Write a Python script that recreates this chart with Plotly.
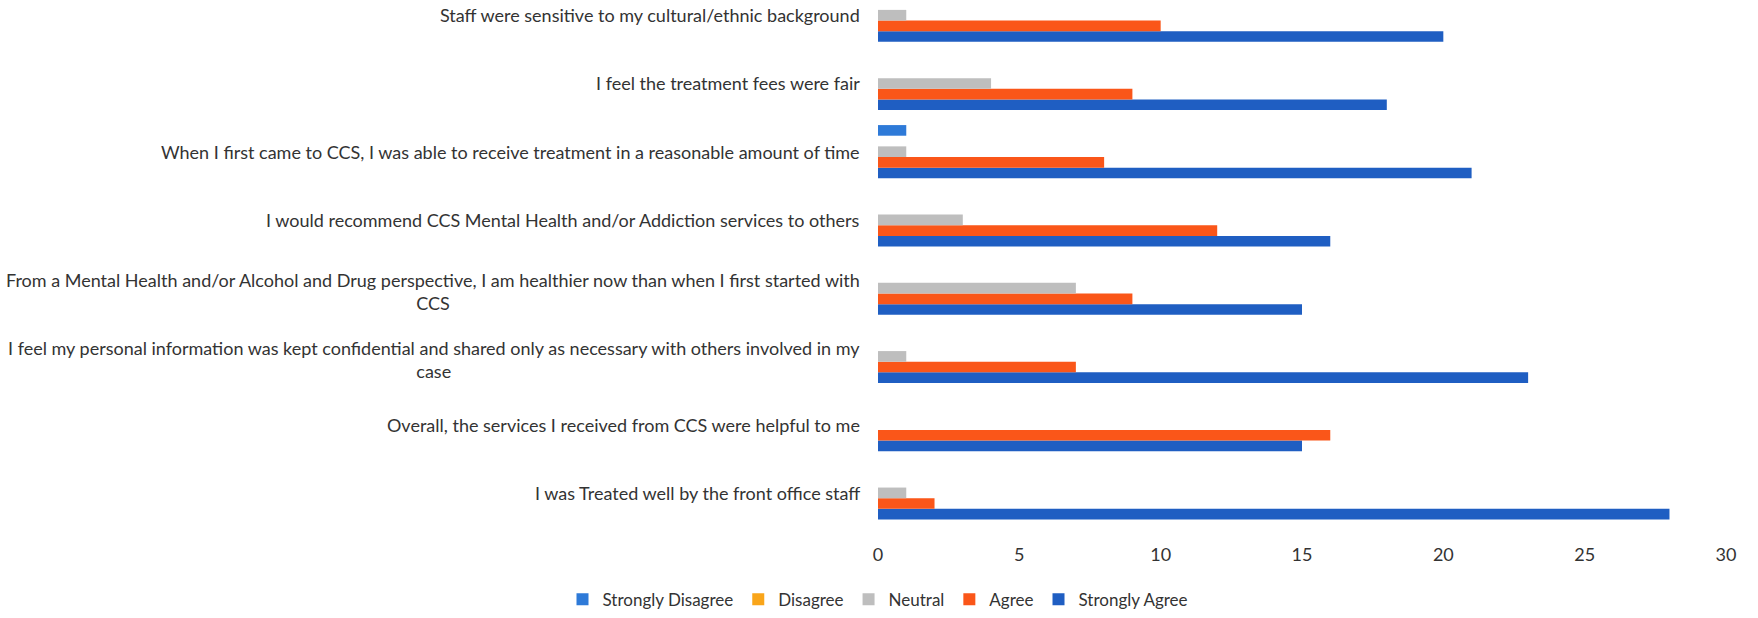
import plotly.graph_objects as go

# Survey statements, listed bottom-to-top as they sit on the y axis
statements = [
    "I was Treated well by the front office staff",
    "Overall, the services I received from CCS were helpful to me",
    "I feel my personal information was kept confidential and shared only as necessary with others involved in my<br>case",
    "From a Mental Health and/or Alcohol and Drug perspective, I am healthier now than when I first started with<br>CCS",
    "I would recommend CCS Mental Health and/or Addiction services to others",
    "When I first came to CCS, I was able to receive treatment in a reasonable amount of time",
    "I feel the treatment fees were fair",
    "Staff were sensitive to my cultural/ethnic background",
]

# Response counts per statement (same order as statements)
strongly_disagree = [0, 0, 0, 0, 0, 1, 0, 0]
disagree = [0, 0, 0, 0, 0, 0, 0, 0]
neutral = [1, 0, 1, 7, 3, 1, 4, 1]
agree = [2, 16, 7, 9, 12, 8, 9, 10]
strongly_agree = [28, 15, 23, 15, 16, 21, 18, 20]

x_ticks = [0, 5, 10, 15, 20, 25, 30]

FONT = "Lato"
TEXT = "#333333"

series = [
    ("Strongly Agree", strongly_agree, "#1F5EC2"),
    ("Agree", agree, "#FA5619"),
    ("Neutral", neutral, "#BEBEBE"),
    ("Disagree", disagree, "#F9A51A"),
    ("Strongly Disagree", strongly_disagree, "#2E7AD8"),
]

fig = go.Figure()
positions = list(range(len(statements)))
for name, values, color in series:
    fig.add_trace(go.Bar(
        y=positions, x=values, name=name, orientation="h",
        marker=dict(color=color, line=dict(width=0)),
    ))

# Statement labels: right-aligned block, extra lines centred under the first
for i, text in enumerate(statements):
    multi = "<br>" in text
    fig.add_annotation(
        xref="paper", yref="y", x=0, y=i, xanchor="right", yanchor="middle",
        xshift=-16, yshift=-3 if multi else 0, text=text, showarrow=False,
        align="center", font=dict(family=FONT, size=18, color=TEXT),
    )

fig.update_layout(
    width=1758, height=618,
    margin=dict(l=878, r=32, t=0, b=82),
    barmode="group", bargap=0.22, bargroupgap=0,
    plot_bgcolor="white", paper_bgcolor="white",
    font=dict(family=FONT, size=18, color=TEXT),
    legend=dict(
        orientation="h", traceorder="reversed",
        x=0.0, xanchor="center", y=-0.138, yanchor="middle",
        font=dict(family=FONT, size=17, color=TEXT),
        itemwidth=30,
    ),
    xaxis=dict(
        range=[0, 30], tickvals=x_ticks, showgrid=False, zeroline=False,
        showline=False, ticks="", ticklabelstandoff=15,
    ),
    yaxis=dict(
        range=[-0.5, 7.223], showticklabels=False, showgrid=False,
        zeroline=False, showline=False, ticks="",
    ),
)

fig.write_html("out.html")
